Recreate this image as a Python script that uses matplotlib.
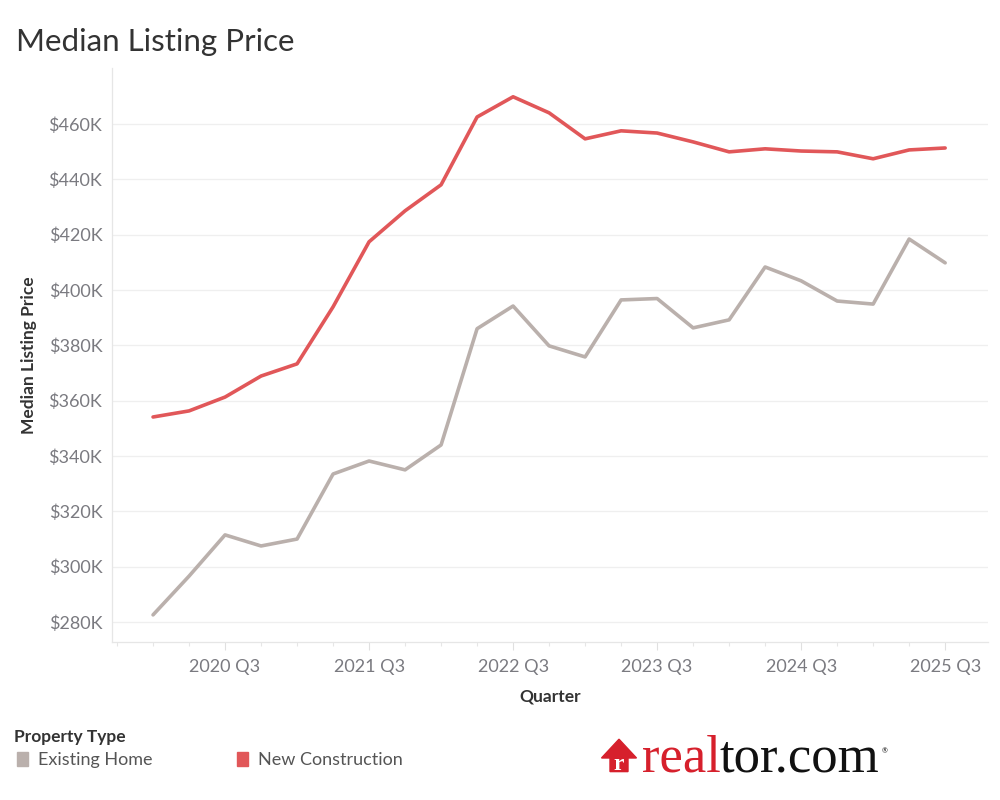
import matplotlib

matplotlib.use("Agg")

import matplotlib.pyplot as plt
from matplotlib.patches import Polygon, Rectangle
from matplotlib.ticker import FixedLocator, FuncFormatter

plt.rcParams["font.family"] = ["Lato", "DejaVu Sans"]

QUARTERS = [
    "2020 Q1", "2020 Q2", "2020 Q3", "2020 Q4",
    "2021 Q1", "2021 Q2", "2021 Q3", "2021 Q4",
    "2022 Q1", "2022 Q2", "2022 Q3", "2022 Q4",
    "2023 Q1", "2023 Q2", "2023 Q3", "2023 Q4",
    "2024 Q1", "2024 Q2", "2024 Q3", "2024 Q4",
    "2025 Q1", "2025 Q2", "2025 Q3",
]
# thousands of dollars
EXISTING_HOME = [
    282.6, 296.6, 311.5, 307.5, 310.0, 333.5, 338.2, 335.0, 344.0, 386.0,
    394.2, 379.8, 375.8, 396.4, 396.9, 386.3, 389.2, 408.3, 403.3, 396.0,
    394.9, 418.4, 409.8,
]
NEW_CONSTRUCTION = [
    354.1, 356.3, 361.3, 368.9, 373.3, 393.9, 417.4, 428.6, 438.0, 462.5,
    469.8, 464.0, 454.6, 457.5, 456.7, 453.5, 449.9, 451.0, 450.2, 449.9,
    447.4, 450.6, 451.3,
]
Y_TICKS = [280, 300, 320, 340, 360, 380, 400, 420, 440, 460]

GREY = "#BAB0AC"
RED = "#E15759"
TEXT = "#333333"
TICK_TEXT = "#7A7A80"

fig = plt.figure(figsize=(10, 8), dpi=100)
ax = fig.add_axes([0.112, 0.1975, 0.876, 0.7175])

x = list(range(len(QUARTERS)))
ax.plot(x, EXISTING_HOME, color=GREY, lw=2.6, solid_capstyle="round")
ax.plot(x, NEW_CONSTRUCTION, color=RED, lw=2.6, solid_capstyle="round")

ax.set_xlim(-1.14, 23.19)
ax.set_ylim(272.8, 480.2)

major = [i for i, q in enumerate(QUARTERS) if q.endswith("Q3")]
ax.xaxis.set_major_locator(FixedLocator(major))
ax.xaxis.set_minor_locator(FixedLocator(list(range(-1, len(QUARTERS)))))
ax.set_xticklabels([QUARTERS[i] for i in major])
ax.tick_params(axis="x", which="major", length=6, width=0.8, color="#E0E0E0",
               labelsize=13, labelcolor=TICK_TEXT, pad=6)
ax.tick_params(axis="x", which="minor", length=3, width=0.8, color="#E6E6E6")

ax.yaxis.set_major_locator(FixedLocator(Y_TICKS))
ax.yaxis.set_major_formatter(FuncFormatter(lambda v, p: f"${v:.0f}K"))
ax.tick_params(axis="y", length=0, labelsize=13, labelcolor=TICK_TEXT, pad=7)

ax.grid(axis="y", color="#EFEFEF", lw=0.9)
ax.set_axisbelow(True)
for side in ("top", "right"):
    ax.spines[side].set_visible(False)
for side in ("left", "bottom"):
    ax.spines[side].set_color("#E6E6E6")
    ax.spines[side].set_linewidth(0.9)

ax.set_xlabel("Quarter", fontsize=12.5, color=TEXT, fontweight="bold", labelpad=10)
ax.set_ylabel("Median Listing Price", fontsize=12.5, color=TEXT, fontweight="bold", labelpad=8)

fig.text(0.016, 0.948, "Median Listing Price", fontsize=22.5, color=TEXT, va="center")

# legend
fig.text(0.014, 0.079, "Property Type", fontsize=12.5, color=TEXT, fontweight="bold", va="center")
fig.patches.append(Rectangle((0.017, 0.0425), 0.011, 0.0175, transform=fig.transFigure,
                             color=GREY, figure=fig))
fig.text(0.038, 0.050, "Existing Home", fontsize=13, color="#555555", va="center")
fig.patches.append(Rectangle((0.237, 0.0425), 0.011, 0.0175, transform=fig.transFigure,
                             color=RED, figure=fig))
fig.text(0.258, 0.050, "New Construction", fontsize=13, color="#555555", va="center")

# realtor.com logo
LOGO_RED = "#D6202C"
house = Polygon([(0.610, 0.0355), (0.610, 0.0525), (0.6015, 0.0525), (0.619, 0.076),
                 (0.6365, 0.0525), (0.628, 0.0525), (0.628, 0.0355)],
                closed=True, transform=fig.transFigure, color=LOGO_RED, figure=fig)
fig.patches.append(house)
fig.text(0.619, 0.038, "r", fontsize=17, color="white", family="Liberation Serif",
         fontweight="bold", ha="center", va="baseline")
t1 = fig.text(0.642, 0.0355, "real", fontsize=38, color=LOGO_RED, family="Liberation Serif",
              va="baseline")
fig.canvas.draw()
bb = t1.get_window_extent().transformed(fig.transFigure.inverted())
t2 = fig.text(bb.x1 - 0.001, 0.0355, "tor.com", fontsize=38, color="#111111",
              family="Liberation Serif", va="baseline")
fig.canvas.draw()
bb2 = t2.get_window_extent().transformed(fig.transFigure.inverted())
fig.text(bb2.x1 + 0.002, 0.062, "®", fontsize=5, color="#111111", va="center")

fig.savefig("out.png", dpi=100)
